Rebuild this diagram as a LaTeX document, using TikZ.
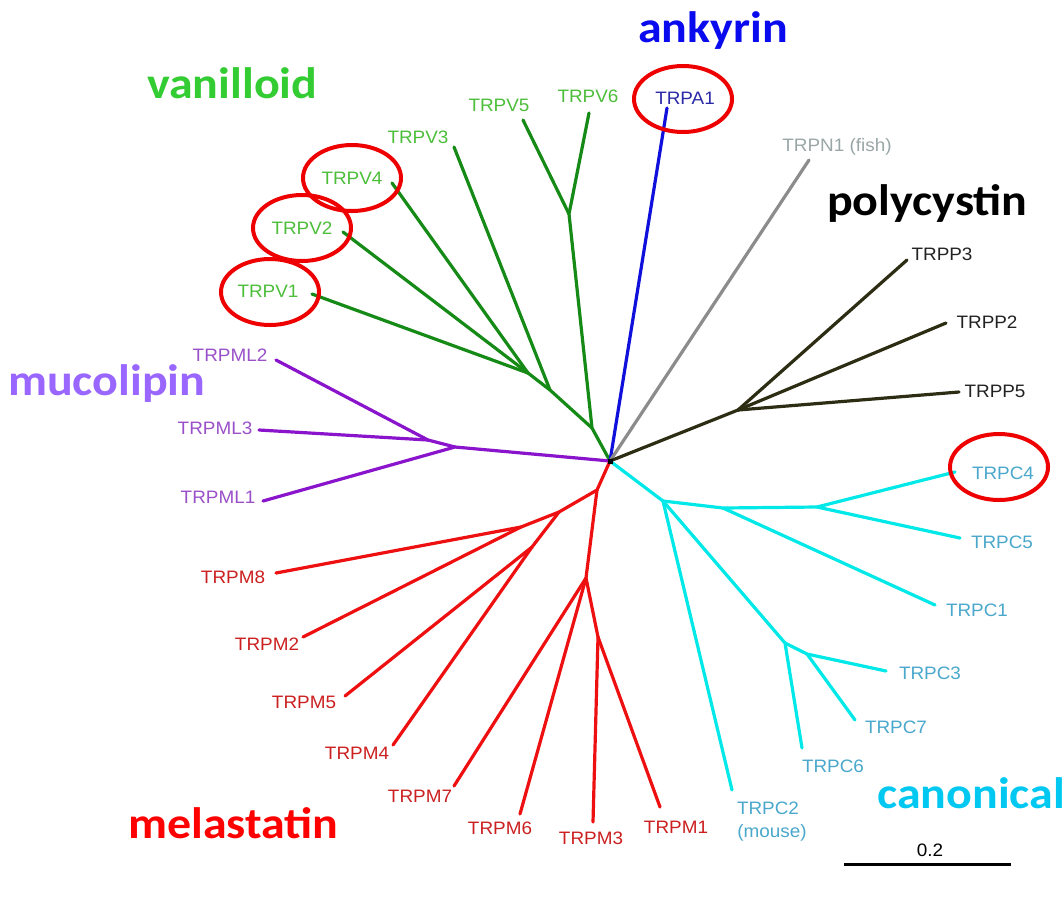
\documentclass[tikz,border=0pt]{standalone}
\usepackage{fontspec}
\setmainfont{Liberation Sans}[FakeStretch=1.05]
\newfontfamily\grpfont{Carlito}[FakeStretch=1.09]
\definecolor{vline}{HTML}{168A16}
\definecolor{vlab}{HTML}{4CBE3A}
\definecolor{vtitle}{HTML}{33CC33}
\definecolor{aline}{HTML}{1010DD}
\definecolor{alab}{HTML}{2A2AA8}
\definecolor{atitle}{HTML}{0A0AEE}
\definecolor{nline}{HTML}{8C8C8C}
\definecolor{nlab}{HTML}{9AA6A6}
\definecolor{pline}{HTML}{2D2D14}
\definecolor{plab}{HTML}{222222}
\definecolor{ptitle}{HTML}{000000}
\definecolor{mlline}{HTML}{8A14CC}
\definecolor{mllab}{HTML}{9A50C8}
\definecolor{mltitle}{HTML}{9966FF}
\definecolor{mline}{HTML}{EE1010}
\definecolor{mlab}{HTML}{CC2020}
\definecolor{mtitle}{HTML}{FF0000}
\definecolor{cline}{HTML}{00E8E8}
\definecolor{clab}{HTML}{4AA8CC}
\definecolor{ctitle}{HTML}{00C8F0}
\definecolor{ringred}{HTML}{EE0000}
\begin{document}
\begin{tikzpicture}[x=1pt,y=-1pt,
  br/.style={line width=3.2pt, line cap=round, line join=round},
  lab/.style={font=\fontsize{18}{20}\selectfont, inner sep=0pt},
  grp/.style={font=\grpfont\bfseries\fontsize{44}{48}\selectfont, inner sep=0pt, anchor=base west},
  ring/.style={draw=ringred, line width=4pt}]
\useasboundingbox[fill=white] (0,0) rectangle (1064,898);

% ---------- coordinates ----------
\coordinate (R) at (610,461);
% vanilloid
\coordinate (g1) at (592,428);
\coordinate (g56) at (569,214);
\coordinate (eV6) at (589,113);
\coordinate (eV5) at (523,120);
\coordinate (g2) at (550,390);
\coordinate (eV3) at (454,147);
\coordinate (g3) at (528,373);
\coordinate (eV4) at (392,183);
\coordinate (eV2) at (343,232);
\coordinate (eV1) at (312,294);
% ankyrin / TRPN
\coordinate (eA1) at (667,108);
\coordinate (eN1) at (809,160);
% polycystin
\coordinate (p1) at (738,410);
\coordinate (eP3) at (907,260);
\coordinate (eP2) at (946,323);
\coordinate (eP5) at (959,392);
% mucolipin
\coordinate (ml1) at (455,447);
\coordinate (ml2) at (428,440);
\coordinate (eML1) at (263,501);
\coordinate (eML2) at (276,360);
\coordinate (eML3) at (259,430);
% melastatin
\coordinate (mA) at (597,490);
\coordinate (mB) at (559,512);
\coordinate (mC) at (521,527);
\coordinate (mD) at (532,547);
\coordinate (mE) at (586,578);
\coordinate (mG) at (598,637);
\coordinate (eM8) at (276,573);
\coordinate (eM2) at (303,637);
\coordinate (eM5) at (345,696);
\coordinate (eM4) at (393,745);
\coordinate (eM7) at (454,786);
\coordinate (eM6) at (520,814);
\coordinate (eM3) at (593,822);
\coordinate (eM1) at (660,807);
% canonical
\coordinate (cH) at (663,501);
\coordinate (cI) at (723,508);
\coordinate (cJ) at (817,507);
\coordinate (cL) at (785,643);
\coordinate (cM) at (807,654);
\coordinate (eC4) at (955,472);
\coordinate (eC5) at (960,538);
\coordinate (eC1) at (935,605);
\coordinate (eC2) at (732,790);
\coordinate (eC6) at (802,748);
\coordinate (eC3) at (886,671);
\coordinate (eC7) at (855,720);
% scale bar
\coordinate (s1) at (844,864);
\coordinate (s2) at (1011,864);

% ---------- branches ----------
\draw[br, vline] (R) -- (g1) -- (g56) -- (eV6);
\draw[br, vline] (g56) -- (eV5);
\draw[br, vline] (g1) -- (g2) -- (eV3);
\draw[br, vline] (g2) -- (g3) -- (eV4);
\draw[br, vline] (g3) -- (eV2);
\draw[br, vline] (g3) -- (eV1);

\draw[br, aline] (R) -- (eA1);
\draw[br, nline] (R) -- (eN1);

\draw[br, pline] (R) -- (p1) -- (eP3);
\draw[br, pline] (p1) -- (eP2);
\draw[br, pline] (p1) -- (eP5);

\draw[br, mlline] (R) -- (ml1) -- (eML1);
\draw[br, mlline] (ml1) -- (ml2) -- (eML2);
\draw[br, mlline] (ml2) -- (eML3);

\draw[br, mline] (R) -- (mA) -- (mB) -- (mC) -- (eM8);
\draw[br, mline] (mC) -- (eM2);
\draw[br, mline] (mB) -- (mD) -- (eM5);
\draw[br, mline] (mD) -- (eM4);
\draw[br, mline] (mA) -- (mE) -- (eM7);
\draw[br, mline] (mE) -- (eM6);
\draw[br, mline] (mE) -- (mG) -- (eM3);
\draw[br, mline] (mG) -- (eM1);

\draw[br, cline] (R) -- (cH) -- (cI) -- (cJ) -- (eC4);
\draw[br, cline] (cJ) -- (eC5);
\draw[br, cline] (cI) -- (eC1);
\draw[br, cline] (cH) -- (eC2);
\draw[br, cline] (cH) -- (cL) -- (eC6);
\draw[br, cline] (cL) -- (cM) -- (eC3);
\draw[br, cline] (cM) -- (eC7);

\fill[black] (R) ++(-2.5,-2.5) rectangle ++(5,5);

\draw[line width=3pt, black] (s1) -- (s2);

% ---------- leaf labels ----------
\node[lab, text=vlab] (V5) at (499,105) {TRPV5};
\node[lab, text=vlab] (V6) at (588,96) {TRPV6};
\node[lab, text=vlab] (V3) at (418,137) {TRPV3};
\node[lab, text=vlab] (V4) at (352,178) {TRPV4};
\node[lab, text=vlab] (V2) at (302,228) {TRPV2};
\node[lab, text=vlab] (V1) at (268,291) {TRPV1};
\node[lab, text=alab] (A1) at (685,98) {TRPA1};
\node[lab, text=nlab] (N1) at (837,147) {TRPN1 (fish)};
\node[lab, text=plab] (P3) at (942,254) {TRPP3};
\node[lab, text=plab] (P2) at (987,322) {TRPP2};
\node[lab, text=plab] (P5) at (995,391) {TRPP5};
\node[lab, text=mllab] (ML2) at (230,355) {TRPML2};
\node[lab, text=mllab] (ML3) at (215,428) {TRPML3};
\node[lab, text=mllab] (ML1) at (218,497) {TRPML1};
\node[lab, text=mlab] (M8) at (233,577) {TRPM8};
\node[lab, text=mlab] (M2) at (267,644) {TRPM2};
\node[lab, text=mlab] (M5) at (304,702) {TRPM5};
\node[lab, text=mlab] (M4) at (357,753) {TRPM4};
\node[lab, text=mlab] (M7) at (420,796) {TRPM7};
\node[lab, text=mlab] (M6) at (500,828) {TRPM6};
\node[lab, text=mlab] (M3) at (591,838) {TRPM3};
\node[lab, text=mlab] (M1) at (676,827) {TRPM1};
\node[lab, text=clab] (C4) at (1003,473) {TRPC4};
\node[lab, text=clab] (C5) at (1002,542) {TRPC5};
\node[lab, text=clab] (C1) at (977,610) {TRPC1};
\node[lab, text=clab] (C3) at (930,673) {TRPC3};
\node[lab, text=clab] (C7) at (896,727) {TRPC7};
\node[lab, text=clab] (C6) at (833,766) {TRPC6};
\node[lab, text=clab] (C2) at (768,808) {TRPC2};
\node[lab, text=clab] (C2m) at (772,833) {(mouse)};
\node[lab, text=black] (sc) at (930,850) {0.2};

% ---------- rings ----------
\draw[ring] (V4.center) ellipse [x radius=49, y radius=33];
\draw[ring] (V2.center) ellipse [x radius=49, y radius=33];
\draw[ring] (270,292) ellipse [x radius=49, y radius=33];
\draw[ring] (683,99) ellipse [x radius=49, y radius=33];
\draw[ring] (999,467) ellipse [x radius=49, y radius=33];

% ---------- group titles ----------
\node[grp, text=atitle] (tA) at (638,42) {ankyrin};
\node[grp, text=vtitle] (tV) at (147,98) {vanilloid};
\node[grp, text=ptitle] (tP) at (827,215) {polycystin};
\node[grp, text=mltitle] (tML) at (8,395) {mucolipin};
\node[grp, text=mtitle] (tM) at (128,838) {melastatin};
\node[grp, text=ctitle] (tC) at (877,808) {canonical};
\end{tikzpicture}
\end{document}
